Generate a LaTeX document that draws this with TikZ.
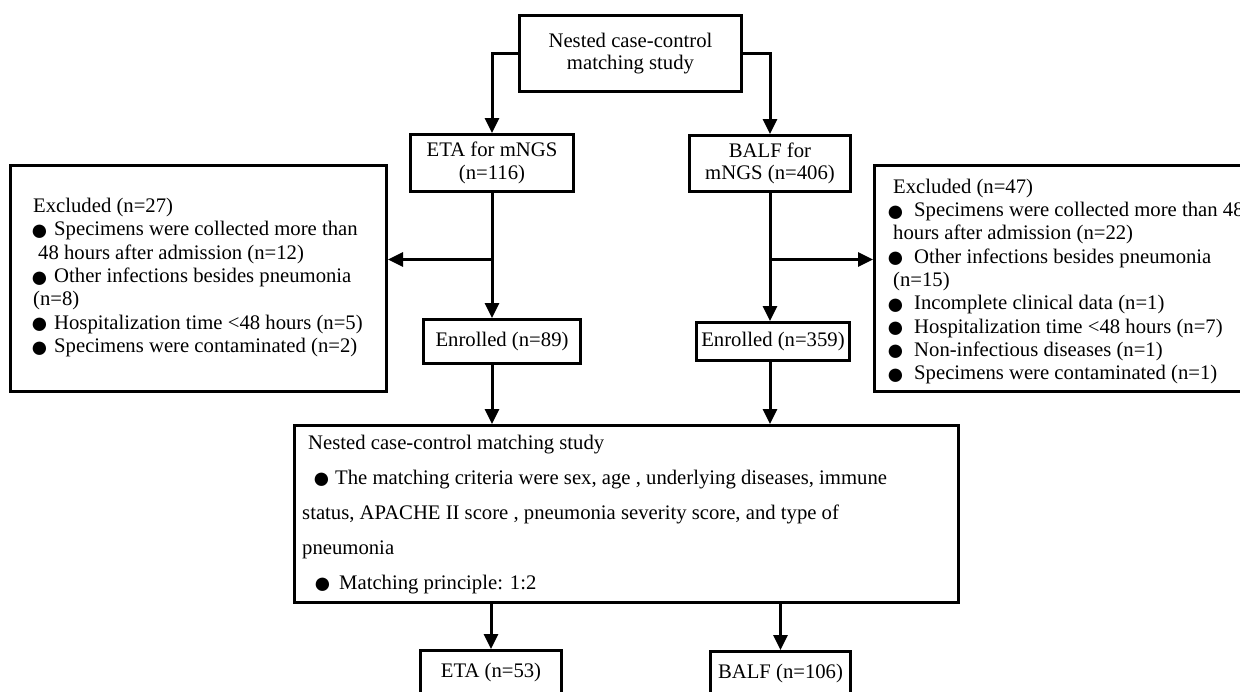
\documentclass[tikz,border=0pt]{standalone}
\usepackage{fontspec}
\setmainfont{Liberation Serif}
\usetikzlibrary{arrows.meta}
\newcommand{\bul}[1]{\makebox[#1][l]{\smash{\raisebox{-4.5pt}{\fontsize{31}{31}\selectfont ●}}}}
\begin{document}
\begin{tikzpicture}[x=1pt,y=-1pt,
  box/.style={draw, line width=3pt, inner sep=0pt, align=center, font=\fontsize{20.7}{22.4}\selectfont},
  txt/.style={inner sep=0pt, anchor=base west, font=\fontsize{20.7}{23.4}\selectfont},
  arr/.style={line width=3pt, -{Triangle[length=15pt,width=14pt]}}]
\useasboundingbox (0,0) rectangle (1240,691);
\fill[white] (0,0) rectangle (1240,691);
\clip (0,0) rectangle (1240,691);

% boxes
\node[box, minimum width=222pt, minimum height=76pt] (top) at (630.5,53.5) {Nested case-control\\matching study};
\node[box, minimum width=163pt, minimum height=57pt] (eta) at (492,163) {ETA for mNGS\\(n=116)};
\node[box, minimum width=161pt, minimum height=56pt] (balf) at (770,163.5) {BALF for\\mNGS (n=406)};
\node[box, minimum width=376pt, minimum height=226pt] (exL) at (198.5,278.5) {};
\node[box, minimum width=374pt, minimum height=226pt] (exR) at (1061.5,278.5) {};
\node[box, minimum width=157pt, minimum height=44pt] (enrE) at (502,341.5) {Enrolled (n=89)};
\node[box, minimum width=153pt, minimum height=38pt] (enrB) at (773,341.5) {Enrolled (n=359)};
\node[box, minimum width=664pt, minimum height=177pt] (mid) at (626.5,514) {};
\node[box, minimum width=141pt, minimum height=45pt] (eta53) at (491,673) {ETA (n=53)};
\node[box, minimum width=140pt, minimum height=44pt] (balf106) at (780.5,673.5) {BALF (n=106)};

% left exclusion text
\node[txt] (L1) at (33,212.3) {Excluded (n=27)};
\node[txt] (L2) at (30,235.7) {\bul{24pt}Specimens were collected more than};
\node[txt] (L3) at (38,259.1) {48 hours after admission (n=12)};
\node[txt] (L4) at (30,282.5) {\bul{24pt}Other infections besides pneumonia};
\node[txt] (L5) at (33,305.9) {(n=8)};
\node[txt] (L6) at (30,329.3) {\bul{24pt}Hospitalization time <48 hours (n=5)};
\node[txt] (L7) at (30,352.7) {\bul{24pt}Specimens were contaminated (n=2)};

% right exclusion text
\node[txt] (R1) at (893,193.3) {Excluded (n=47)};
\node[txt] (R2) at (886,216.6) {\bul{28pt}Specimens were collected more than 48};
\node[txt] (R3) at (893,239.9) {hours after admission (n=22)};
\node[txt] (R4) at (886,263.2) {\bul{28pt}Other infections besides pneumonia};
\node[txt] (R5) at (893,286.5) {(n=15)};
\node[txt] (R6) at (886,309.8) {\bul{28pt}Incomplete clinical data (n=1)};
\node[txt] (R7) at (886,333.1) {\bul{28pt}Hospitalization time <48 hours (n=7)};
\node[txt] (R8) at (886,356.4) {\bul{28pt}Non-infectious diseases (n=1)};
\node[txt] (R9) at (886,379.7) {\bul{28pt}Specimens were contaminated (n=1)};

% middle text
\node[txt] (M1) at (308,449.3) {Nested case-control matching study};
\node[txt] (M2) at (312,484.3) {\bul{23pt}The matching criteria were sex, age , underlying diseases, immune};
\node[txt] (M3) at (302,519.3) {status, APACHE II score , pneumonia severity score, and type of};
\node[txt] (M4) at (302,554.3) {pneumonia};
\node[txt] (M5) at (313,589.3) {\bul{26pt}Matching principle: 1:2};

% connectors
\draw[arr] (top.west) -| (eta.north);
\draw[arr] (top.east) -| (balf.north);
\draw[arr] (eta.south) -- (eta.south |- enrE.north);
\draw[arr] (balf.south) -- (balf.south |- enrB.north);
\path (eta.south) ++(0,66.5) coordinate (bL);
\path (balf.south) ++(0,66.5) coordinate (bR);
\draw[arr] (bL) -- (bL -| exL.east);
\draw[arr] (bR) -- (bR -| exR.west);
\draw[arr] (eta.south |- enrE.south) -- (eta.south |- mid.north);
\draw[arr] (balf.south |- enrB.south) -- (balf.south |- mid.north);
\draw[arr] (eta53.north |- mid.south) -- (eta53.north);
\draw[arr] (balf106.north |- mid.south) -- (balf106.north);
\end{tikzpicture}
\end{document}
